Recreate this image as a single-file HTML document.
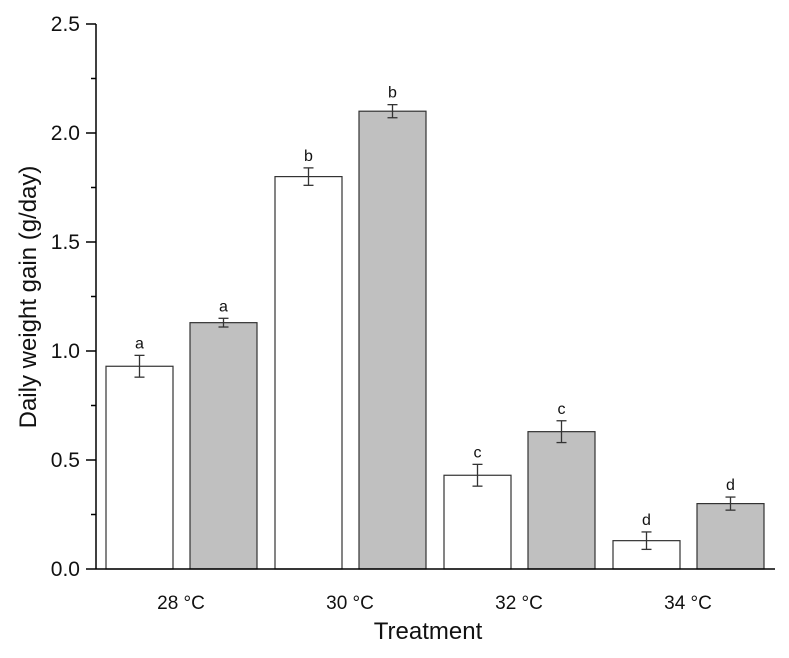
<!DOCTYPE html>
<html><head><meta charset="utf-8"><style>
body{margin:0;background:#fff;}
svg text{font-family:"Liberation Sans",Arial,sans-serif;fill:#111;}
</style></head><body>
<svg id="chart" width="789" height="653"></svg>
<script>
const categories=["28 °C","30 °C","32 °C","34 °C"];
const whiteValues=[0.93,1.80,0.43,0.13];
const whiteErrors=[0.05,0.04,0.05,0.04];
const grayValues=[1.13,2.10,0.63,0.30];
const grayErrors=[0.02,0.03,0.05,0.03];
const letters=["a","b","c","d"];
const yTicks=[0,0.5,1.0,1.5,2.0,2.5];
const NS="http://www.w3.org/2000/svg";
const svg=document.getElementById('chart');
const y0=569,yTop=24,yMax=2.5;
function y(v){return y0-(v/yMax)*(y0-yTop);}
function cx(i){return 181+i*169;}
function mk(tag,attrs,parent){const e=document.createElementNS(NS,tag);for(const k in attrs)e.setAttribute(k,attrs[k]);(parent||svg).appendChild(e);return e;}
const axY=mk('line',{x1:96,y1:y0,x2:96,y2:yTop,stroke:'#000','stroke-width':1.5});


yTicks.forEach((t,i)=>{
  const tl=mk('line',{x1:86,x2:96,y1:y(t),y2:y(t),stroke:'#000','stroke-width':1.5});
  
  
  if(i<yTicks.length-1){const m=mk('line',{x1:91,x2:96,y1:y(t+0.25),y2:y(t+0.25),stroke:'#000','stroke-width':1.5});
  
  }
  const tx=mk('text',{x:80,y:y(t)+7,'text-anchor':'end','font-size':21});
  tx.textContent=t.toFixed(1);
  
  
});
function bar(x,v,e,fill,lab){
  const r=mk('rect',{x:x,y:y(v),width:67,height:y0-y(v),fill:fill,stroke:'#333','stroke-width':1.2});
  
  
  const m=x+33.5;
  const g=mk('g',{stroke:'#333','stroke-width':1.3});
  
  
  mk('line',{x1:m,x2:m,y1:y(v+e),y2:y(v-e)},g);
  mk('line',{x1:m-5,x2:m+5,y1:y(v+e),y2:y(v+e)},g);
  mk('line',{x1:m-5,x2:m+5,y1:y(v-e),y2:y(v-e)},g);
  const t=mk('text',{x:m,y:y(v+e)-7,'text-anchor':'middle','font-size':16,'font-weight':500});
  t.textContent=lab;
  
  
}
categories.forEach((c,i)=>{
  bar(cx(i)-75,whiteValues[i],whiteErrors[i],'#fff',letters[i]);
  bar(cx(i)+9,grayValues[i],grayErrors[i],'#c0c0c0',letters[i]);
  const t=mk('text',{x:cx(i),y:609,'text-anchor':'middle','font-size':19});
  t.textContent=c;
  
  
});
const axX=mk('line',{x1:96,y1:y0,x2:775,y2:y0,stroke:'#000','stroke-width':1.5});


const xt=mk('text',{x:428,y:639,'text-anchor':'middle','font-size':24});
xt.textContent='Treatment';


const yt=mk('text',{x:0,y:0,'text-anchor':'middle','font-size':24,transform:'translate(36,297) rotate(-90)'});
yt.textContent='Daily weight gain (g/day)';


</script>
</body></html>
